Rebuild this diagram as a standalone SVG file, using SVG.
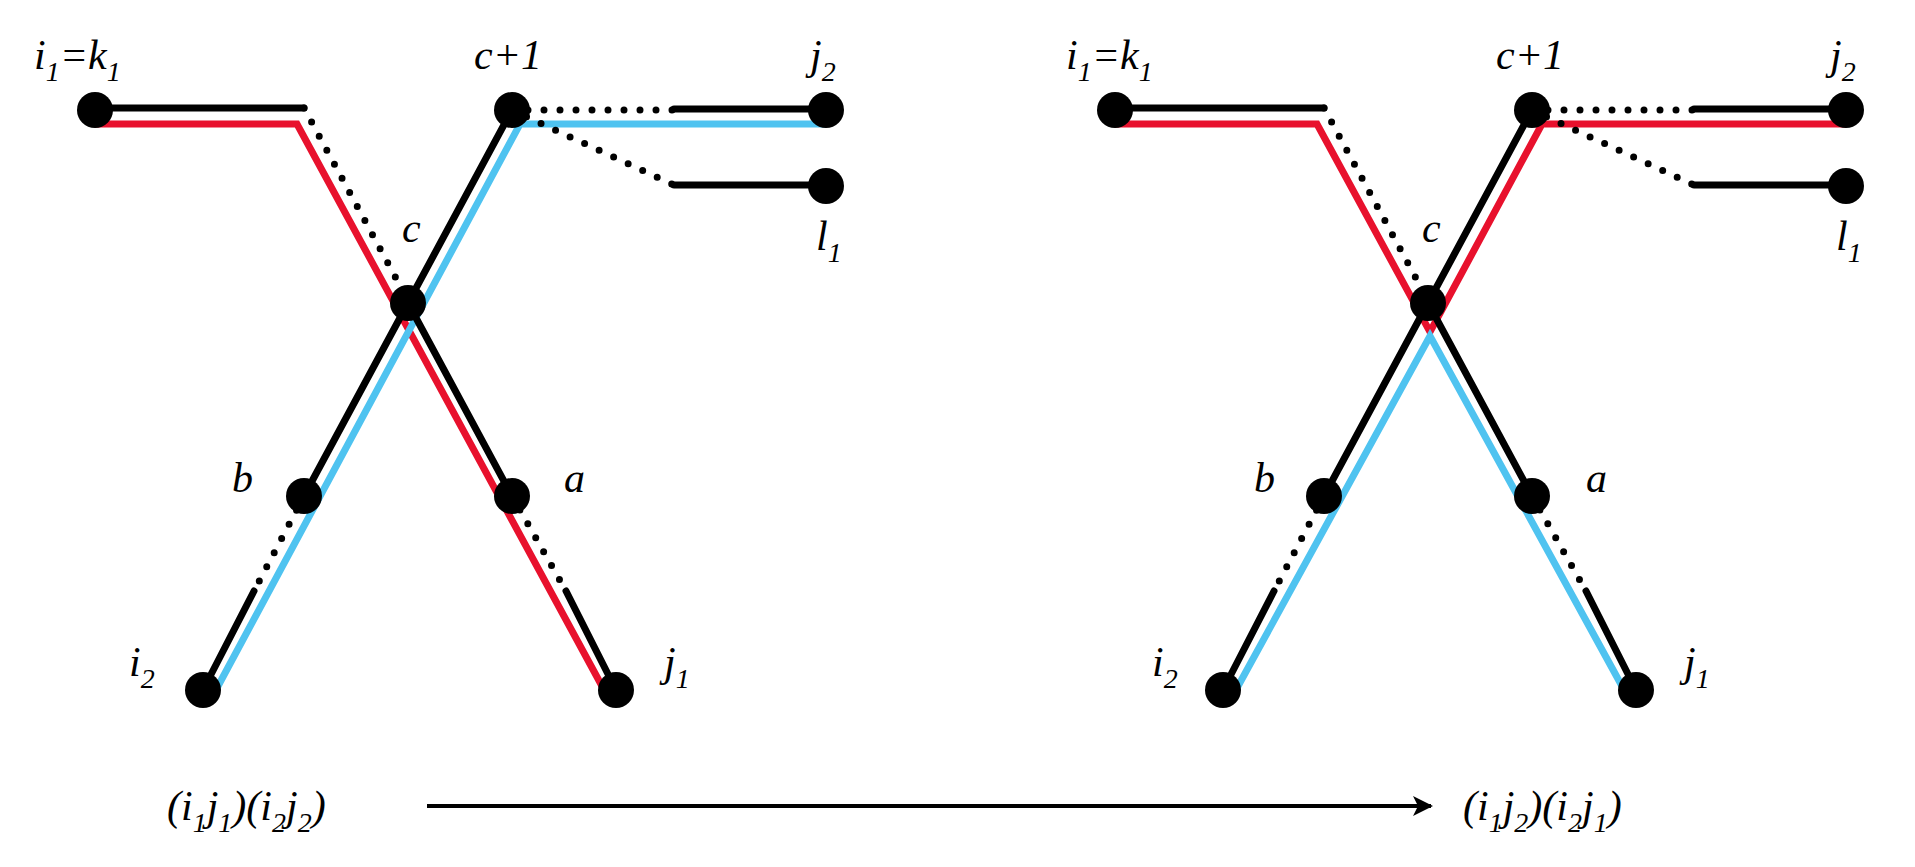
<svg xmlns="http://www.w3.org/2000/svg" width="1915" height="867" viewBox="0 0 1915 867">
<style>
.k{stroke:#000;stroke-width:7;fill:none;stroke-linecap:round}
.d{stroke:#000;stroke-width:7;fill:none;stroke-linecap:round;stroke-dasharray:0 16}
.r{stroke:#e8112d;stroke-width:7;fill:none;stroke-linejoin:miter}
.b{stroke:#4fc3f0;stroke-width:7;fill:none;stroke-linejoin:miter}
.n{fill:#000}
text{font-family:"Liberation Serif",serif;font-style:italic;font-size:42px;fill:#000}
.s{font-size:28px}
</style>
<defs>
<marker id="ah" viewBox="0 0 20 20" refX="18" refY="10" markerWidth="20" markerHeight="20" markerUnits="userSpaceOnUse" orient="auto">
<path d="M0,0 L20,10 L0,20 L5,10 Z" fill="#000"/>
</marker>
</defs>
<g id="connectors">
<!-- left panel -->
<polyline class="r" points="95,124 297,124 603,688"/>
<polyline class="b" points="826,124 520,124 217,688"/>
<line class="k" x1="95" y1="108" x2="304" y2="108"/>
<line class="d" x1="304" y1="108" x2="397" y2="280"/>
<line class="k" x1="512" y1="110" x2="408" y2="303"/>
<line class="k" x1="408" y1="303" x2="512" y2="496"/>
<line class="k" x1="408" y1="303" x2="304" y2="496"/>
<line class="d" x1="304" y1="496" x2="254" y2="591"/>
<line class="k" x1="254" y1="591" x2="203" y2="690"/>
<line class="d" x1="512" y1="496" x2="566" y2="591"/>
<line class="k" x1="566" y1="591" x2="616" y2="690"/>
<line class="d" x1="512" y1="110" x2="674" y2="110"/>
<line class="k" x1="674" y1="109" x2="826" y2="109"/>
<line class="d" x1="512" y1="110" x2="674" y2="185"/>
<line class="k" x1="674" y1="185" x2="826" y2="185"/>
<!-- right panel -->
<polyline class="r" points="1115,124 1317,124 1430,332 1542,124 1846,124"/>
<polyline class="b" points="1237,688 1430,336 1623,688"/>
<line class="k" x1="1115" y1="108" x2="1324" y2="108"/>
<line class="d" x1="1324" y1="108" x2="1417" y2="280"/>
<line class="k" x1="1532" y1="110" x2="1428" y2="303"/>
<line class="k" x1="1428" y1="303" x2="1532" y2="496"/>
<line class="k" x1="1428" y1="303" x2="1324" y2="496"/>
<line class="d" x1="1324" y1="496" x2="1274" y2="591"/>
<line class="k" x1="1274" y1="591" x2="1223" y2="690"/>
<line class="d" x1="1532" y1="496" x2="1586" y2="591"/>
<line class="k" x1="1586" y1="591" x2="1636" y2="690"/>
<line class="d" x1="1532" y1="110" x2="1694" y2="110"/>
<line class="k" x1="1694" y1="109" x2="1846" y2="109"/>
<line class="d" x1="1532" y1="110" x2="1694" y2="185"/>
<line class="k" x1="1694" y1="185" x2="1846" y2="185"/>
<!-- arrow -->
<line x1="427" y1="806" x2="1431" y2="806" stroke="#000" stroke-width="4" marker-end="url(#ah)"/>
</g>
<g id="left-i1"><circle class="n" cx="95" cy="110" r="18"/><text x="34" y="69">i<tspan class="s" dy="12">1</tspan><tspan dy="-12">=k</tspan><tspan class="s" dy="12">1</tspan></text></g>
<g id="left-c1"><circle class="n" cx="512" cy="110" r="18"/><text x="474" y="69">c+1</text></g>
<g id="left-j2"><circle class="n" cx="826" cy="110" r="18"/><text x="810" y="69">j<tspan class="s" dy="12">2</tspan></text></g>
<g id="left-l1"><circle class="n" cx="826" cy="186" r="18"/><text x="816" y="250">l<tspan class="s" dy="12">1</tspan></text></g>
<g id="left-c"><circle class="n" cx="408" cy="303" r="18"/><text x="402" y="242">c</text></g>
<g id="left-b"><circle class="n" cx="304" cy="496" r="18"/><text x="232" y="492">b</text></g>
<g id="left-a"><circle class="n" cx="512" cy="496" r="18"/><text x="564" y="492">a</text></g>
<g id="left-i2"><circle class="n" cx="203" cy="690" r="18"/><text x="129" y="676">i<tspan class="s" dy="12">2</tspan></text></g>
<g id="left-j1"><circle class="n" cx="616" cy="690" r="18"/><text x="664" y="676">j<tspan class="s" dy="12">1</tspan></text></g>
<g id="right-i1"><circle class="n" cx="1115" cy="110" r="18"/><text x="1066" y="69">i<tspan class="s" dy="12">1</tspan><tspan dy="-12">=k</tspan><tspan class="s" dy="12">1</tspan></text></g>
<g id="right-c1"><circle class="n" cx="1532" cy="110" r="18"/><text x="1496" y="69">c+1</text></g>
<g id="right-j2"><circle class="n" cx="1846" cy="110" r="18"/><text x="1830" y="69">j<tspan class="s" dy="12">2</tspan></text></g>
<g id="right-l1"><circle class="n" cx="1846" cy="186" r="18"/><text x="1836" y="250">l<tspan class="s" dy="12">1</tspan></text></g>
<g id="right-c"><circle class="n" cx="1428" cy="303" r="18"/><text x="1422" y="242">c</text></g>
<g id="right-b"><circle class="n" cx="1324" cy="496" r="18"/><text x="1254" y="492">b</text></g>
<g id="right-a"><circle class="n" cx="1532" cy="496" r="18"/><text x="1586" y="492">a</text></g>
<g id="right-i2"><circle class="n" cx="1223" cy="690" r="18"/><text x="1152" y="676">i<tspan class="s" dy="12">2</tspan></text></g>
<g id="right-j1"><circle class="n" cx="1636" cy="690" r="18"/><text x="1684" y="676">j<tspan class="s" dy="12">1</tspan></text></g>
<g id="formula-left"><text x="167" y="820">(i<tspan class="s" dy="12">1</tspan><tspan dy="-12">j</tspan><tspan class="s" dy="12">1</tspan><tspan dy="-12">)(i</tspan><tspan class="s" dy="12">2</tspan><tspan dy="-12">j</tspan><tspan class="s" dy="12">2</tspan><tspan dy="-12">)</tspan></text></g>
<g id="formula-right"><text x="1463" y="820">(i<tspan class="s" dy="12">1</tspan><tspan dy="-12">j</tspan><tspan class="s" dy="12">2</tspan><tspan dy="-12">)(i</tspan><tspan class="s" dy="12">2</tspan><tspan dy="-12">j</tspan><tspan class="s" dy="12">1</tspan><tspan dy="-12">)</tspan></text></g>
</svg>
